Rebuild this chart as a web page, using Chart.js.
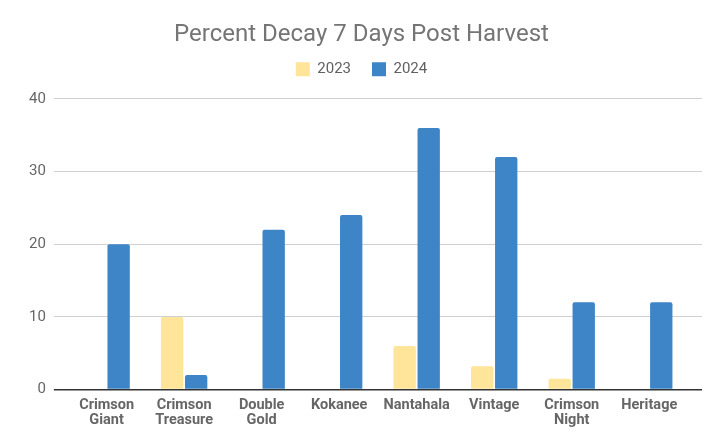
<!DOCTYPE html>
<html>
<head>
<meta charset="utf-8">
<script src="https://cdn.jsdelivr.net/npm/chart.js@4"></script>
<style>
  html, body { margin: 0; padding: 0; background: #fff; }
  #wrap { width: 725px; height: 448px; }
</style>
</head>
<body>
<div id="wrap"><canvas id="chart" width="725" height="448"></canvas></div>
<script>
// Chart data
const categories = [
  ['Crimson', 'Giant'], ['Crimson', 'Treasure'], ['Double', 'Gold'], 'Kokanee',
  'Nantahala', 'Vintage', ['Crimson', 'Night'], 'Heritage'
];
const decay2023 = [null, 10, null, null, 6, 3.2, 1.5, null];
const decay2024 = [20, 2, 22, 24, 36, 32, 12, 12];
const yTicks = [0, 10, 20, 30, 40];

// Legend: wide gap between items, but keep it tight vertically
const legendGap = {
    id: 'legendGap',
    beforeInit(chart) {
        const fit = chart.legend.fit;
        chart.legend.fit = function () {
            fit.call(this);
            this.height += 1;
        };
    },
    afterLayout(chart) {
        chart.legend.top -= 11;
        chart.legend.bottom -= 11;
    }
};

// zero line is dark, the rest light grey
const gridColor = c => (c.tick && c.tick.value === 0 ? '#333333' : '#d0d0d0');
const gridWidth = c => (c.tick && c.tick.value === 0 ? 1.5 : 1);

document.addEventListener("DOMContentLoaded", () => {
    const ctx = document.getElementById('chart').getContext('2d');

    new Chart(ctx, {
        type: 'bar',
        data: {
            labels: categories,
            datasets: [
                { label: '2023', data: decay2023, backgroundColor: '#ffe599', borderRadius: 2, yAxisID: 'y' },
                { label: '2024', data: decay2024, backgroundColor: '#3d85c6', borderRadius: 2, yAxisID: 'y' }
            ]
        },
        options: {
            responsive: false,
            animation: false,
            categoryPercentage: 0.62,
            barPercentage: 0.93,
            layout: { padding: { left: 21, right: 23, top: 9, bottom: 20 } },
            plugins: {
                title: {
                    display: true,
                    text: 'Percent Decay 7 Days Post Harvest',
                    color: '#757575',
                    font: { family: 'Roboto', size: 24, weight: 'normal' },
                    padding: { top: 12, bottom: 2 }
                },
                legend: {
                    labels: {
                        color: '#616161',
                        font: { family: 'Roboto', size: 15 },
                        boxWidth: 14,
                        boxHeight: 14,
                        padding: 21
                    }
                },
                tooltip: { enabled: false }
            },
            scales: {
                x: {
                    grid: { display: false },
                    border: { display: false },
                    ticks: {
                        color: '#666',
                        font: { family: 'Roboto', size: 14.5, weight: 'bold', lineHeight: 0.98 },
                        maxRotation: 0,
                        padding: 1
                    }
                },
                y: {
                    min: 0,
                    max: 40,
                    afterBuildTicks: axis => { axis.ticks = yTicks.map(v => ({ value: v })); },
                    grid: { color: gridColor, lineWidth: gridWidth, tickLength: 14 },
                    border: { display: false },
                    ticks: {
                        color: '#666',
                        font: { family: 'Roboto', size: 15 },
                        padding: 8
                    }
                },
                y2: {
                    position: 'right',
                    min: 0,
                    max: 40,
                    afterBuildTicks: axis => { axis.ticks = yTicks.map(v => ({ value: v })); },
                    grid: { color: gridColor, lineWidth: gridWidth, tickLength: 14, drawOnChartArea: false },
                    border: { display: false },
                    ticks: { display: false }
                }
            }
        },
        plugins: [legendGap]
    });
});
</script>
</body>
</html>
